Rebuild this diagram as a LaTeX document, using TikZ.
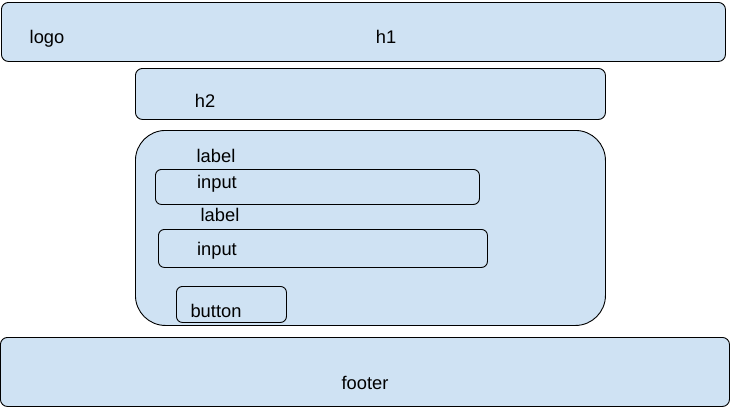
\documentclass[tikz,border=0pt]{standalone}
\usepackage{fontspec}
\setmainfont{Liberation Sans}
\usetikzlibrary{positioning}
\definecolor{boxblue}{HTML}{CFE2F3}

\begin{document}
\begin{tikzpicture}[x=1pt,y=-1pt,
    box/.style={draw=black,fill=boxblue,line width=0.9pt,rounded corners=7pt,anchor=north west,inner sep=0pt},
    txt/.style={anchor=base,inner sep=0pt,font=\fontsize{18.3}{20}\selectfont}]
        \useasboundingbox (0,0) rectangle (730,407);
        % Boxes
        \node[box,minimum width=724pt,minimum height=59pt] (header) at (1,2) {};
        \node[box,minimum width=470pt,minimum height=51pt] (sub) at (135,68) {};
        \node[box,minimum width=470pt,minimum height=195pt,rounded corners=30pt] (form) at (135,130) {};
        \node[box,minimum width=324pt,minimum height=35pt,rounded corners=6pt] (field1) at (155,169) {};
        \node[box,minimum width=329pt,minimum height=38pt,rounded corners=6pt] (field2) at (158,229) {};
        \node[box,minimum width=110pt,minimum height=36pt,rounded corners=6pt] (btn) at (176,286) {};
        \node[box,minimum width=729pt,minimum height=69pt] (foot) at (0,337) {};
        % Texts
        \node[txt] (logo) at (47,43) {logo};
        \node[txt] (title) at (386,43) {h1};
        \node[txt] (subtitle) at (205,107) {h2};
        \node[txt] (label1) at (216,162) {label};
        \node[txt] (input1) at (217,188) {input};
        \node[txt] (label2) at (220,221) {label};
        \node[txt] (input2) at (217,255) {input};
        \node[txt] (button) at (216,317) {button};
        \node[txt] (footer) at (365,389) {footer};
      \end{tikzpicture}
\end{document}
